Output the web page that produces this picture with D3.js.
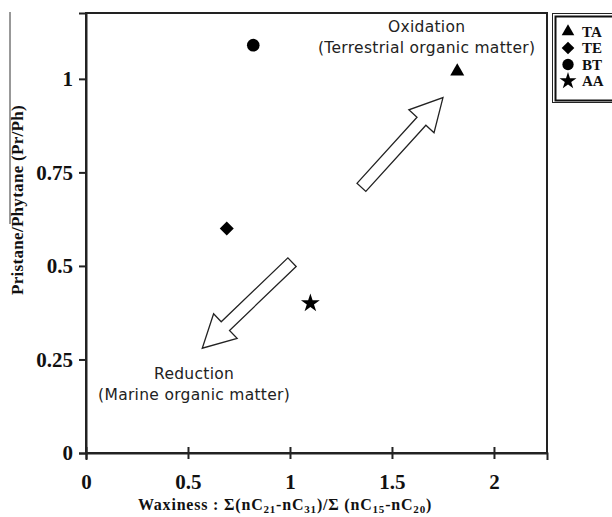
<!DOCTYPE html>
<html><head><meta charset="utf-8">
<script src="https://cdn.jsdelivr.net/npm/d3@7"></script>
<style>body{margin:0;background:#fff}svg{display:block}</style>
</head><body>
<script>
// Data
const series = ["TA", "TE", "BT", "AA"];
const symbolsName = ["triangle", "diamond", "circle", "star"];
const waxiness = [1.82, 0.69, 0.82, 1.10];
const prPh = [1.02, 0.60, 1.09, 0.40];
const xTicks = [0, 0.5, 1, 1.5, 2];
const yTicks = [0, 0.25, 0.5, 0.75, 1];
const xTickLabels = ["0", "0.5", "1", "1.5", "2"];
const yTickLabels = ["0", "0.25", "0.5", "0.75", "1"];
// annotation arrows (data coords): [tailX, tailY, tipX, tipY]
const arrowOx = [1.35, 0.71, 1.75, 0.95];
const arrowRed = [1.01, 0.51, 0.57, 0.28];
const oxText = ["Oxidation", "(Terrestrial organic matter)"];
const redText = ["Reduction", "(Marine organic matter)"];
const oxPos = [1.67, 1.125];
const redPos = [0.53, 0.198];

const W = 612, H = 517;
const svg = d3.select("body").append("svg").attr("width", W).attr("height", H);
const L = 86, R = 547, T = 13, B = 453;
const x = d3.scaleLinear().domain([0, 2.26]).range([L, R]);
const y = d3.scaleLinear().domain([0, 1.176]).range([B, T]);

// frame
svg.append("rect").attr("x", L).attr("y", T).attr("width", R - L).attr("height", B - T)
  .attr("fill", "none").attr("stroke", "#222").attr("stroke-width", 2);

const serif = "'Liberation Serif','Times New Roman',serif";
const sans = "'DejaVu Sans',Arial,sans-serif";

// y axis
const yAxis = d3.axisLeft(y).tickValues(yTicks).tickFormat((d, i) => yTickLabels[i]).tickSize(7).tickPadding(6);
const gy = svg.append("g").attr("transform", `translate(${L},0)`).call(yAxis);
gy.select(".domain").attr("stroke", "#222").attr("stroke-width", 2);
gy.selectAll(".tick line").attr("stroke", "#222").attr("stroke-width", 2);
gy.selectAll(".tick text").attr("font-family", serif).attr("font-weight", "bold").attr("font-size", 21).attr("fill", "#111");

// x axis
const xAxis = d3.axisBottom(x).tickValues(xTicks).tickFormat((d, i) => xTickLabels[i]).tickSize(7).tickPadding(14);
const gx = svg.append("g").attr("transform", `translate(0,${B})`).call(xAxis);
gx.select(".domain").attr("stroke", "#222").attr("stroke-width", 2);
gx.selectAll(".tick line").attr("stroke", "#222").attr("stroke-width", 2).attr("y1", -6).attr("y2", 6);
gx.selectAll(".tick text").attr("font-family", serif).attr("font-weight", "bold").attr("font-size", 21).attr("fill", "#111");

// axis titles
const xt = svg.append("text").attr("x", 285).attr("y", 510).attr("text-anchor", "middle")
  .attr("font-family", serif).attr("font-weight", "bold").attr("font-size", 16).attr("letter-spacing", 0.8).attr("fill", "#111");
xt.append("tspan").text("Waxiness : Σ(nC");
xt.append("tspan").attr("font-size", 11).attr("dy", 3).text("21");
xt.append("tspan").attr("dy", -3).text("-nC");
xt.append("tspan").attr("font-size", 11).attr("dy", 3).text("31");
xt.append("tspan").attr("dy", -3).text(")/Σ (nC");
xt.append("tspan").attr("font-size", 11).attr("dy", 3).text("15");
xt.append("tspan").attr("dy", -3).text("-nC");
xt.append("tspan").attr("font-size", 11).attr("dy", 3).text("20");
xt.append("tspan").attr("dy", -3).text(")");

svg.append("text").attr("transform", "translate(23,200) rotate(-90)").attr("text-anchor", "middle")
  .attr("font-family", serif).attr("font-weight", "bold").attr("font-size", 17).attr("letter-spacing", 0.3).attr("fill", "#111")
  .text("Pristane/Phytane (Pr/Ph)");
svg.append("line").attr("x1", 10).attr("x2", 10).attr("y1", 12).attr("y2", 224).attr("stroke", "#333").attr("stroke-width", 1);

// symbols
function symPath(name) {
  if (name === "triangle") return d3.symbol().type(d3.symbolTriangle).size(85)();
  if (name === "circle") return d3.symbol().type(d3.symbolCircle).size(125)();
  if (name === "star") return d3.symbol().type(d3.symbolStar).size(110)();
  return "M0,-7L7,0L0,7L-7,0Z";
}
svg.append("g").selectAll("path").data(series).join("path")
  .attr("d", (d, i) => symPath(symbolsName[i]))
  .attr("transform", (d, i) => `translate(${x(waxiness[i])},${y(prPh[i])})`)
  .attr("fill", "#000");

// block arrows
function blockArrow(a) {
  const x0 = x(a[0]), y0 = y(a[1]), x1 = x(a[2]), y1 = y(a[3]);
  const len = Math.hypot(x1 - x0, y1 - y0);
  const ang = Math.atan2(y1 - y0, x1 - x0) * 180 / Math.PI;
  const sw = 6, hw = 17, hl = 32;
  const pts = [[0, -sw], [len - hl, -sw], [len - hl, -hw], [len, 0], [len - hl, hw], [len - hl, sw], [0, sw]];
  svg.append("path").attr("d", "M" + pts.map(p => p.join(",")).join("L") + "Z")
    .attr("transform", `translate(${x0},${y0}) rotate(${ang})`)
    .attr("fill", "#fff").attr("stroke", "#222").attr("stroke-width", 1.3);
}
blockArrow(arrowOx);
blockArrow(arrowRed);

// annotation text
function anno(lines, pos) {
  lines.forEach((t, i) => svg.append("text").attr("x", x(pos[0])).attr("y", y(pos[1]) + i * 21)
    .attr("text-anchor", "middle").attr("font-family", sans).attr("font-size", 15.5).attr("letter-spacing", 0.3).attr("fill", "#222").text(t));
}
anno(oxText, oxPos);
anno(redText, redPos);

// legend
const lg = svg.append("g");
lg.append("rect").attr("x", 552.5).attr("y", 13.5).attr("width", 70).attr("height", 89)
  .attr("fill", "#fff").attr("stroke", "#222").attr("stroke-width", 1);
lg.append("rect").attr("x", 555.5).attr("y", 16.5).attr("width", 70).attr("height", 84)
  .attr("fill", "none").attr("stroke", "#111").attr("stroke-width", 2);
series.forEach((s, i) => {
  const yy = 31.5 + i * 16.5;
  lg.append("path").attr("d", symPath(symbolsName[i])).attr("transform", `translate(568,${yy}) scale(0.9)`).attr("fill", "#000");
  lg.append("text").attr("x", 582).attr("y", yy + 5).attr("font-family", serif).attr("font-weight", "bold")
    .attr("font-size", 15).attr("fill", "#111").text(s);
});
</script>
</body></html>
